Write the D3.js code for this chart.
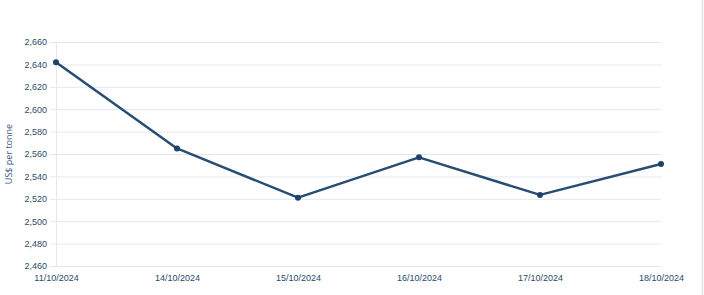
<!DOCTYPE html>
<html>
<head>
<meta charset="utf-8">
<script src="https://cdn.jsdelivr.net/npm/d3@7"></script>
<style>
  body { margin: 0; background: #fff; }
  svg { display: block; font-family: "Open Sans", sans-serif; }
</style>
</head>
<body>
<script>
const dates = ['11/10/2024', '14/10/2024', '15/10/2024', '16/10/2024', '17/10/2024', '18/10/2024']
const prices = [2642, 2565, 2521, 2557, 2523.5, 2551]
const yTicks = [2460, 2480, 2500, 2520, 2540, 2560, 2580, 2600, 2620, 2640, 2660]

let width = 704
let height = 295
let margin = { top: 42, right: 43, bottom: 29, left: 56 }

const svg = d3.select('body')
  .append('svg')
  .attr('width', width)
  .attr('height', height)

// right border of the panel
svg.append('line')
  .attr('x1', 702.5).attr('x2', 702.5)
  .attr('y1', 0).attr('y2', height)
  .attr('stroke', '#dde3ea')
  .attr('stroke-width', 1.5)

const x = d3.scalePoint()
  .domain(dates)
  .range([margin.left, width - margin.right])

const y = d3.scaleLinear()
  .domain([2460, 2660])
  .range([height - margin.bottom, margin.top])

// Y axis + gridlines
const yAxis = svg.append('g')
  .attr('transform', `translate(${margin.left},0)`)
  .call(d3.axisLeft(y)
    .tickValues(yTicks)
    .tickFormat(d3.format(','))
    .tickSize(-(width - margin.right - margin.left))
    .tickPadding(9))
yAxis.select('.domain').remove()
yAxis.selectAll('.tick line')
  .attr('x1', -6)
  .attr('stroke', '#e4e8ee')
yAxis.selectAll('.tick text')
  .attr('fill', '#2c4a6b')
  .style('font-size', '9px')

// left axis line
svg.append('line')
  .attr('x1', margin.left + 0.5).attr('x2', margin.left + 0.5)
  .attr('y1', margin.top).attr('y2', height - margin.bottom)
  .attr('stroke', '#e4e8ee')

// X axis
const xAxis = svg.append('g')
  .attr('transform', `translate(0,${height - margin.bottom})`)
  .call(d3.axisBottom(x).tickSize(0).tickPadding(9))
xAxis.select('.domain').remove()
xAxis.selectAll('.tick text')
  .attr('fill', '#2c4a6b')
  .style('font-size', '9px')

// Y axis title
svg.append('text')
  .attr('transform', `translate(12,${(margin.top + height - margin.bottom) / 2}) rotate(-90)`)
  .attr('text-anchor', 'middle')
  .attr('fill', '#3a5a80')
  .style('font-size', '9px')
  .text('US$ per tonne')

// line
const line = d3.line()
  .x((d, i) => x(dates[i]))
  .y(d => y(d))

svg.append('path')
  .datum(prices)
  .attr('fill', 'none')
  .attr('stroke', '#284d72')
  .attr('stroke-width', 2.5)
  .attr('stroke-linejoin', 'round')
  .attr('d', line)

svg.selectAll('.dot')
  .data(prices)
  .enter()
  .append('circle')
  .attr('class', 'dot')
  .attr('cx', (d, i) => x(dates[i]))
  .attr('cy', d => y(d))
  .attr('r', 3)
  .attr('fill', '#1f4268')
</script>
</body>
</html>
